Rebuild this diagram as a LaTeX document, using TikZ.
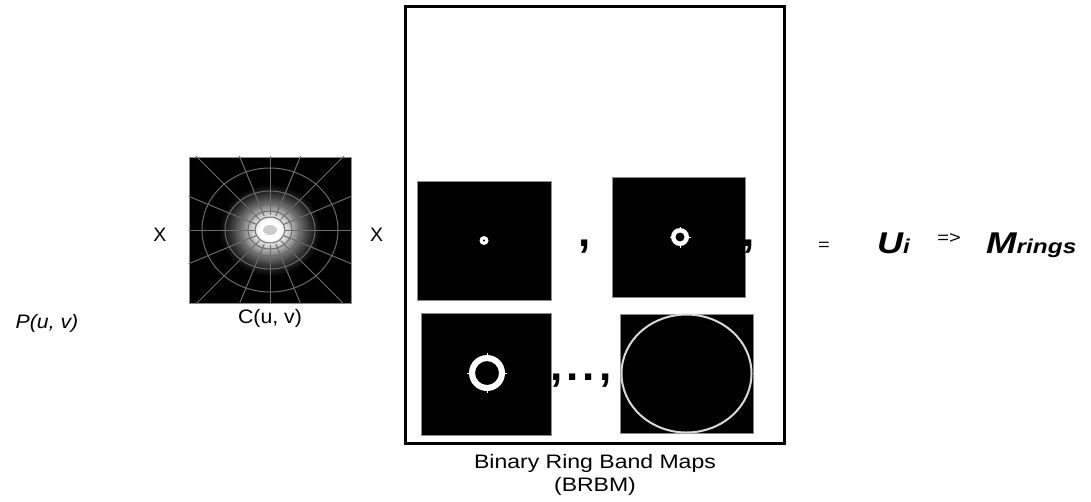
\documentclass[tikz,border=0pt]{standalone}
\usepackage{fontspec}
\setmainfont{Liberation Sans}
\newcommand{\fsz}[1]{\fontsize{#1}{#1}\selectfont}
\newcommand{\wide}[2][1.09]{\scalebox{#1}[1]{#2}}
% soft bright spot in the middle of the weighting map
% (the shaded path's box is mapped onto the central 50bp square)
\pgfdeclareradialshading{glow}{\pgfpointorigin}{%
  color(0bp)=(white); color(5bp)=(white); color(8bp)=(white!85!black);
  color(11bp)=(white!65!black); color(14bp)=(white!45!black);
  color(17.5bp)=(white!27!black); color(21bp)=(white!12!black);
  color(24.5bp)=(black); color(50bp)=(black)}
\begin{document}
\begin{tikzpicture}[x=1pt,y=-1pt,
  lbl/.style={inner sep=0pt, anchor=base},
  mapbox/.style={fill=black, draw=white!55!black, line width=0.6pt, inner sep=0pt},
  gridline/.style={draw=white!42!black, line width=1pt},
  ringline/.style={draw=white!85!black, line width=2pt}]
\useasboundingbox (0,0) rectangle (1091,501);

% frame around the ring band maps
\node[draw, line width=3pt, minimum width=379, minimum height=437, inner sep=0pt] (frame) at (594.5,224.5) {};

% weighting map C(u,v)
\node[mapbox, minimum width=162, minimum height=146] (cimg) at (270,230) {};
\begin{scope}
  \clip (cimg.south west) rectangle (cimg.north east);
  \shade[shading=glow] (cimg.center) ellipse [x radius=52, y radius=47];
  \foreach \a in {0,22.5,...,337.5}
    \draw[gridline] (cimg.center) ++(\a:15) -- ++(\a:120);
  \foreach \rx/\ry in {15/13, 22/19, 30/26, 45/39, 68/62}
    \draw[gridline] (cimg.center) ellipse [x radius=\rx, y radius=\ry];
  \fill[white!80!black] (cimg.center) ellipse [x radius=7, y radius=5.5];
  \draw[white, line width=1.6pt] (cimg.center) ellipse [x radius=8, y radius=6];
\end{scope}

% binary ring band maps
\node[mapbox, minimum width=134, minimum height=119] (m1) at (484,240.5) {};
\node[mapbox, minimum width=133, minimum height=120] (m2) at (678.5,237) {};
\node[mapbox, minimum width=130, minimum height=122] (m3) at (486,374) {};
\node[mapbox, minimum width=133, minimum height=119] (m4) at (686.5,373.5) {};

\fill[white, even odd rule] (m1.center) circle [radius=4.5] circle [radius=1.4];
\fill[white, even odd rule] (m2.center) ++(1.5,0) circle [radius=9] circle [radius=4.6];
\foreach \a in {0,90,180,270}
  \draw[white, line width=1pt] (m2.center) ++(1.5,0) ++(\a:8.5) -- ++(\a:2);
\fill[white, even odd rule] (m3.center) ++(1,-1) circle [radius=18] circle [radius=12];
\foreach \a in {0,90,180,270}
  \draw[white, line width=1pt] (m3.center) ++(1,-1) ++(\a:17.5) -- ++(\a:2.5);
\draw[ringline] (m4.center) ellipse [x radius=65, y radius=59];

% separators between the maps
\node[lbl, font=\fsz{44}\bfseries] (c1) at (585,246) {,};
\node[lbl, font=\fsz{44}\bfseries] (c2) at (749,246) {,};
\node[lbl, font=\fsz{44}\bfseries] (c3) at (581,380) {,\kern4pt.\kern4pt.\kern4pt,};

% operators and labels
\node[lbl, font=\fsz{19.5}] (x1) at (160,241) {X};
\node[lbl, font=\fsz{19.5}] (x2) at (376.5,241) {X};
\node[lbl, font=\fsz{19.5}] (clbl) at (270,323) {\wide{C(u, v)}};
\node[lbl, font=\fsz{19.5}\itshape] (plbl) at (47,328) {\wide{P(u, v)}};
\node[lbl, font=\fsz{19.5}] (blbl1) at (595,468) {\wide[1.18]{Binary Ring Band Maps}};
\node[lbl, font=\fsz{19.5}] (blbl2) at (595,491) {\wide[1.18]{(BRBM)}};

\node[lbl, font=\fsz{17}] (eq) at (824,250) {\wide[1.18]{=}};
\node[lbl, anchor=base west, font=\fsz{30}\bfseries\itshape] (ui) at (877,253)
  {\wide[1.2]{U{\fsz{20}i}}};
\node[lbl, font=\fsz{17}] (imp) at (949,243) {\wide[1.18]{=>}};
\node[lbl, anchor=base west, font=\fsz{30}\bfseries\itshape] (mr) at (986,253)
  {\wide[1.22]{M{\fsz{20}rings}}};
\end{tikzpicture}
\end{document}
